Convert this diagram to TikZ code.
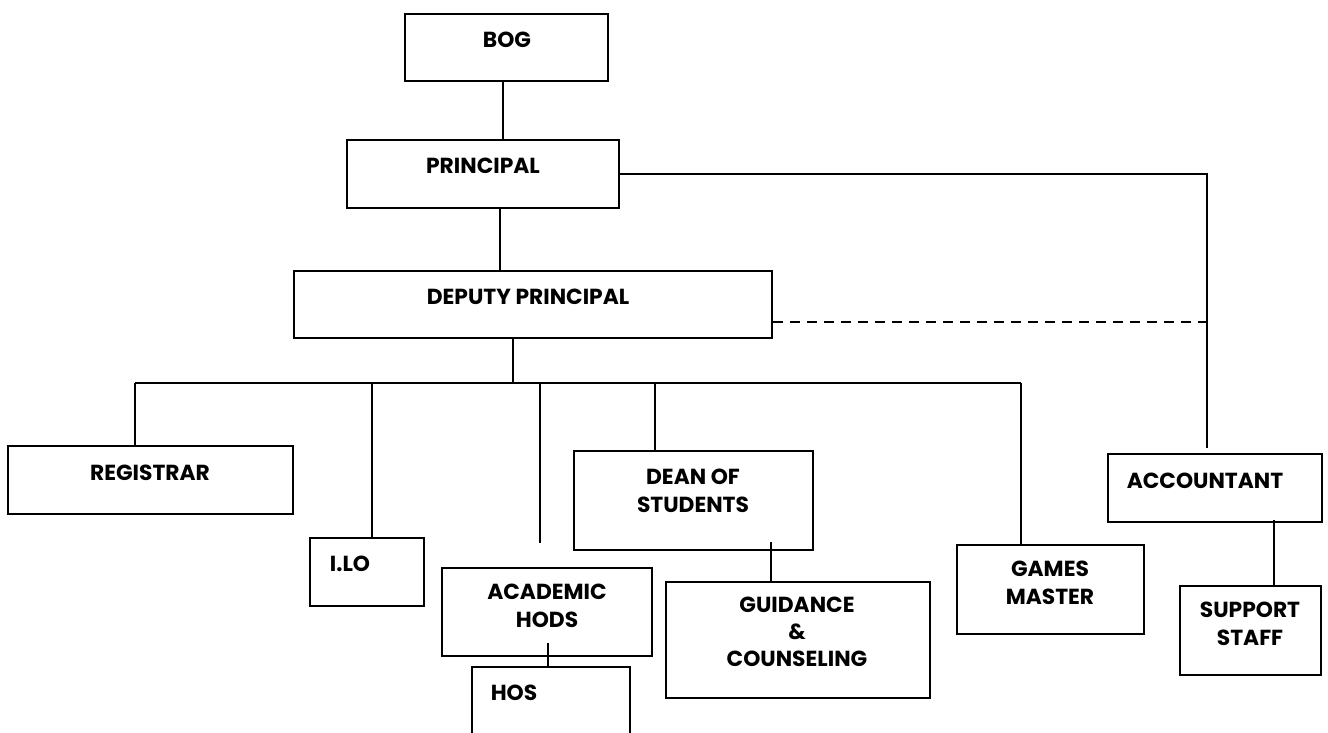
\documentclass[tikz,border=0pt]{standalone}
\usepackage{fontspec}
\setmainfont{Poppins}
\begin{document}
\begin{tikzpicture}[x=1pt,y=-1pt,
  box/.style={draw, line width=1.7pt, inner sep=0pt, minimum width=#1},
  txt/.style={font=\bfseries\fontsize{21.8}{28}\selectfont, align=center, inner sep=0pt},
  conn/.style={line width=1.7pt},
  dconn/.style={line width=1.7pt, dash pattern=on 10pt off 7pt}]
\useasboundingbox (0,0) rectangle (1328,732);
\clip (0,0) rectangle (1328,732);

% boxes
\node[box=203pt, minimum height=67pt] (bog) at (506.5,47.5) {};
\node[box=272pt, minimum height=68pt] (principal) at (483,174) {};
\node[box=478pt, minimum height=67pt] (deputy) at (533,304.5) {};
\node[box=285pt, minimum height=68pt] (registrar) at (150.5,480) {};
\node[box=114pt, minimum height=68pt] (ilo) at (367,572) {};
\node[box=210pt, minimum height=88pt] (academic) at (547,612) {};
\node[box=158pt, minimum height=78pt] (hos) at (551,706) {};
\node[box=239pt, minimum height=99pt] (dean) at (693.5,500.5) {};
\node[box=264pt, minimum height=116pt] (guidance) at (798,640) {};
\node[box=187pt, minimum height=89pt] (games) at (1050.5,589.5) {};
\node[box=214pt, minimum height=68pt] (accountant) at (1215,488) {};
\node[box=141pt, minimum height=89pt] (support) at (1250.5,630.5) {};

% texts
\node[txt] (bog-t) at (507,39.5) {BOG};
\node[txt] (principal-t) at (483,166) {PRINCIPAL};
\node[txt] (deputy-t) at (528,297) {DEPUTY PRINCIPAL};
\node[txt] (registrar-t) at (150,473) {REGISTRAR};
\node[txt] (ilo-t) at (350,564) {I.LO};
\node[txt] (academic-t) at (547,606) {ACADEMIC\\HODS};
\node[txt] (hos-t) at (514,693) {HOS};
\node[txt] (dean-t) at (693,490.5) {DEAN OF\\STUDENTS};
\node[txt, font=\bfseries\fontsize{21.8}{27}\selectfont] (guidance-t) at (797,632) {GUIDANCE\\\&\\COUNSELING};
\node[txt] (games-t) at (1050,583) {GAMES\\MASTER};
\node[txt] (accountant-t) at (1205,481) {ACCOUNTANT};
\node[txt] (support-t) at (1250,623.5) {SUPPORT\\STAFF};

% coordinates
\coordinate (busL) at (135,383);
\coordinate (busR) at (1021,383);
\coordinate (depdrop) at (513,383);
\coordinate (b-ilo) at (372,383);
\coordinate (b-acad) at (540,383);
\coordinate (acad-end) at (540,543);
\coordinate (b-dean) at (655,383);
\coordinate (accjoin) at (1207,448);
\coordinate (dashend) at (1207,322);
\coordinate (dg) at (771,542);
\coordinate (ah) at (548,643);
\coordinate (as) at (1274,520);
\coordinate (bp) at (503,0);
\coordinate (pd) at (500,0);

% connectors
\draw[conn] (bp |- bog.south) -- (bp |- principal.north);
\draw[conn] (pd |- principal.south) -- (pd |- deputy.north);
\draw[conn] (principal.east) -| (accjoin);
\draw[dconn] (deputy.east |- dashend) -- (dashend);
\draw[conn] (depdrop |- deputy.south) -- (depdrop);
\draw[conn] (busL) -- (busR);
\draw[conn] (busL) -- (busL |- registrar.north);
\draw[conn] (b-ilo) -- (b-ilo |- ilo.north);
\draw[conn] (b-acad) -- (acad-end);
\draw[conn] (b-dean) -- (b-dean |- dean.north);
\draw[conn] (busR) -- (busR |- games.north);
\draw[conn] (dg) -- (dg |- guidance.north);
\draw[conn] (ah) -- (ah |- hos.north);
\draw[conn] (as) -- (as |- support.north);
\end{tikzpicture}
\end{document}
